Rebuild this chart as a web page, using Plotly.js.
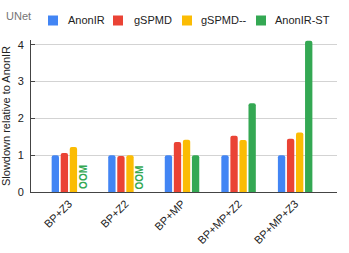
<!DOCTYPE html>
<html><head><meta charset="utf-8">
<script src="https://cdn.plot.ly/plotly-3.0.1.min.js"></script>
<style>html,body{margin:0;padding:0;background:#fff}#c{width:349px;height:253px}</style>
</head><body><div id="c"></div>
<script>
var categories = ["BP+Z3", "BP+Z2", "BP+MP", "BP+MP+Z2", "BP+MP+Z3"];
var seriesNames = ["AnonIR", "gSPMD", "gSPMD--", "AnonIR-ST"];
var anonIR   = [1.0, 1.0, 1.0, 1.0, 1.0];
var gSPMD    = [1.06, 0.98, 1.36, 1.53, 1.45];
var gSPMDmm  = [1.22, 1.0, 1.42, 1.41, 1.62];
var anonIRST = [null, null, 1.0, 2.41, 4.11];
var oomLabel = "OOM";
var chartTitle = "UNet";
var yTitle = "Slowdown relative to AnonIR";

var colors = ["#4285F4", "#EA4335", "#FBBC04", "#34A853"];
var values = [anonIR, gSPMD, gSPMDmm, anonIRST];

var W = 349, H = 253, mL = 31, mR = 12, mT = 40, mB = 61;
function px2paperX(p){ return (p - mL) / (W - mL - mR); }
function px2paperY(p){ return 1 - (p - mT) / (H - mT - mB); }

var traces = values.map(function(v, i){
  return {type: "bar", x: categories, y: v, name: seriesNames[i],
    marker: {color: colors[i]}, showlegend: false, hoverinfo: "none"};
});

var annotations = [];
var shapes = [];
anonIRST.forEach(function(v, i){
  if (v === null) {
    annotations.push({x: categories[i], y: 0, xref: "x", yref: "y", text: oomLabel,
      showarrow: false, textangle: -90, xanchor: "center", yanchor: "bottom", xshift: 14, yshift: 1,
      font: {family: "Liberation Sans, Arial, sans-serif", size: 10, color: "#34A853", weight: "bold"}});
  }
});
var sqX = [48, 113, 182, 256], txX = [65.5, 131.5, 199, 272.5];
seriesNames.forEach(function(n, i){
  shapes.push({type: "rect", xref: "paper", yref: "paper",
    x0: px2paperX(sqX[i]), x1: px2paperX(sqX[i] + 10), y0: px2paperY(25.5), y1: px2paperY(15.5),
    fillcolor: colors[i], line: {width: 0}});
  annotations.push({xref: "paper", yref: "paper", x: px2paperX(txX[i]), y: px2paperY(20.5),
    xanchor: "left", yanchor: "middle", showarrow: false, text: n,
    font: {family: "Liberation Sans, Arial, sans-serif", size: 11, color: "#222"}});
});
annotations.push({xref: "paper", yref: "paper", x: px2paperX(4), y: px2paperY(15.5),
  xanchor: "left", yanchor: "middle", showarrow: false, text: chartTitle,
  font: {family: "Liberation Sans, Arial, sans-serif", size: 11, color: "#757575"}});

var layout = {
  width: W, height: H,
  margin: {l: mL, r: mR, t: mT, b: mB, pad: 0},
  paper_bgcolor: "#fff", plot_bgcolor: "#fff",
  font: {family: "Liberation Sans, Arial, sans-serif", size: 11, color: "#222"},
  barmode: "group", bargap: 0.36, bargroupgap: 0.19, barcornerradius: 2,
  xaxis: {type: "category", range: [-0.67, 4.74], showline: true, linecolor: "#444", linewidth: 1,
    ticks: "", tickangle: -45, showgrid: false, tickfont: {size: 11, color: "#222"}, fixedrange: true},
  yaxis: {range: [0, 4.13], dtick: 1, showline: true, linecolor: "#444", linewidth: 1,
    ticks: "inside", ticklen: 4, tickcolor: "#444", gridcolor: "#d3d3d3", zeroline: false,
    tickfont: {size: 11, color: "#222"}, ticklabelstandoff: 4,
    title: {text: yTitle, font: {size: 11, color: "#222"}, standoff: 4}},
  shapes: shapes,
  annotations: annotations
};
Plotly.newPlot("c", traces, layout, {staticPlot: true, displayModeBar: false});
</script></body></html>
